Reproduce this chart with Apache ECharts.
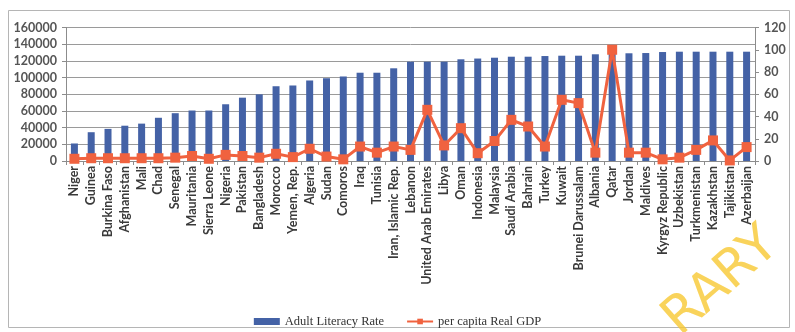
<!DOCTYPE html>
<html>
<head>
<meta charset="utf-8">
<script src="https://cdn.jsdelivr.net/npm/echarts@6/dist/echarts.min.js"></script>
<style>
  html, body { margin: 0; padding: 0; background: #ffffff; }
  #chart { width: 795px; height: 332px; }
</style>
</head>
<body>
<div id="chart"></div>
<script>
// Countries ordered by adult literacy
const countries = [
  'Niger', 'Guinea', 'Burkina Faso', 'Afghanistan', 'Mali', 'Chad', 'Senegal',
  'Mauritania', 'Sierra Leone', 'Nigeria', 'Pakistan', 'Bangladesh', 'Morocco',
  'Yemen, Rep.', 'Algeria', 'Sudan', 'Comoros', 'Iraq', 'Tunisia',
  'Iran, Islamic Rep.', 'Lebanon', 'United Arab Emirates', 'Libya', 'Oman',
  'Indonesia', 'Malaysia', 'Saudi Arabia', 'Bahrain', 'Turkey', 'Kuwait',
  'Brunei Darussalam', 'Albania', 'Qatar', 'Jordan', 'Maldives',
  'Kyrgyz Republic', 'Uzbekistan', 'Turkmenistan', 'Kazakhstan', 'Tajikistan',
  'Azerbaijan'
];

// Adult literacy rate (left axis)
const literacy = [
  21000, 34500, 38500, 42300, 44800, 51800, 57300, 60500, 60500, 68000,
  75900, 79900, 89600, 90500, 96500, 99200, 101300, 105800, 105800, 111100,
  119000, 119000, 119000, 121900, 122800, 123800, 125000, 125000, 125800, 126200,
  126200, 127900, 128800, 129100, 129400, 130600, 131000, 131000, 131000, 131000,
  131000
];

// Per capita real GDP index (right axis)
const gdp = [
  2, 2.5, 2.5, 2.5, 2.5, 2.5, 3, 4.5, 2, 5.5,
  4.5, 3, 6.5, 3.5, 11, 4, 1.5, 13, 7.5, 13,
  10, 46, 14, 29.5, 7, 18, 37, 31, 13, 55,
  52, 7.5, 100, 7.5, 7.5, 1.5, 3, 10, 18.5, 0.5,
  12.5
];

const leftTicks = { min: 0, max: 160000, interval: 20000 };
const rightTicks = { min: 0, max: 120, interval: 20 };

const chart = echarts.init(document.getElementById('chart'), null, { renderer: 'canvas' });

const axisGray = '#8c8c8c';
const labelFont = 'Lato, "Open Sans", sans-serif';

chart.setOption({
  animation: false,
  backgroundColor: '#ffffff',
  textStyle: { fontFamily: labelFont },
  grid: { left: 66, right: 40, top: 27.5, bottom: 171, containLabel: false },
  legend: {
    bottom: 4,
    left: 'center',
    padding: 0,
    itemWidth: 26,
    itemHeight: 7,
    itemGap: 22,
    textStyle: { fontFamily: '"Liberation Serif", serif', fontSize: 12.5, color: '#333' },
    data: [
      { name: 'Adult Literacy Rate', icon: 'rect' },
      { name: 'per capita Real GDP' }
    ]
  },
  xAxis: {
    type: 'category',
    data: countries,
    axisLine: { lineStyle: { color: axisGray } },
    axisTick: { show: true, length: 4, lineStyle: { color: axisGray } },
    axisLabel: {
      interval: 0,
      rotate: 90,
      margin: 5,
      fontSize: 12.5,
      fontWeight: 'bold',
      color: '#3a3a3a',
      fontFamily: labelFont
    }
  },
  yAxis: [
    {
      type: 'value',
      min: leftTicks.min,
      max: leftTicks.max,
      interval: leftTicks.interval,
      axisLine: { show: true, lineStyle: { color: axisGray } },
      axisTick: { show: true, length: 4, lineStyle: { color: axisGray } },
      axisLabel: {
        fontSize: 12.5, fontWeight: 'bold', color: '#555', margin: 9,
        formatter: (v) => String(v)
      },
      splitLine: { show: true, lineStyle: { color: '#9a9a9a', width: 1 } }
    },
    {
      type: 'value',
      min: rightTicks.min,
      max: rightTicks.max,
      interval: rightTicks.interval,
      position: 'right',
      axisLine: { show: true, lineStyle: { color: axisGray } },
      axisTick: { show: true, length: 4, lineStyle: { color: axisGray } },
      axisLabel: { fontSize: 12.5, fontWeight: 'bold', color: '#555', margin: 9 },
      splitLine: { show: false }
    }
  ],
  series: [
    {
      name: 'Adult Literacy Rate',
      type: 'bar',
      yAxisIndex: 0,
      data: literacy,
      barWidth: 7,
      itemStyle: { color: '#4462a6' }
    },
    {
      name: 'per capita Real GDP',
      type: 'line',
      yAxisIndex: 1,
      data: gdp,
      symbol: 'rect',
      symbolSize: 10,
      lineStyle: { color: '#f0623f', width: 3 },
      itemStyle: { color: '#f0623f' },
      z: 3
    }
  ],
  graphic: [
    {
      type: 'rect',
      shape: { x: 8.5, y: 10.5, width: 781, height: 317 },
      style: { fill: 'none', stroke: '#b5b5b5', lineWidth: 1 },
      silent: true,
      z: -1
    },
    {
      // stamp across the lower right corner
      type: 'text',
      x: 772,
      y: 238,
      rotation: 0.72,
      silent: true,
      z: 100,
      style: {
        text: 'RARY',
        textAlign: 'right',
        textVerticalAlign: 'middle',
        fontSize: 52,
        fontFamily: '"DejaVu Sans", sans-serif',
        fill: 'rgba(247, 200, 50, 0.8)'
      }
    }
  ]
});
</script>
</body>
</html>
